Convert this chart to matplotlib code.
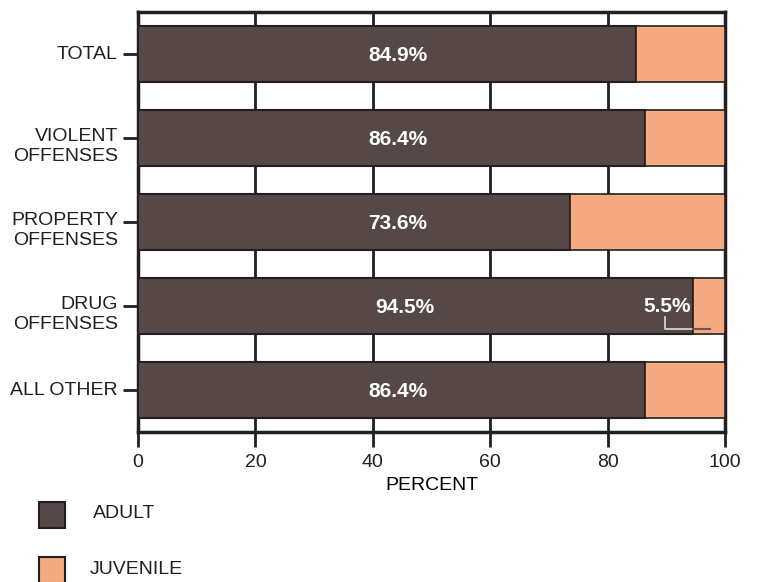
import matplotlib
matplotlib.use("Agg")
import matplotlib.pyplot as plt
from matplotlib.patches import Rectangle

plt.rcParams['font.family'] = ['Liberation Sans', 'DejaVu Sans']

categories = ["TOTAL", "VIOLENT\nOFFENSES", "PROPERTY\nOFFENSES", "DRUG\nOFFENSES", "ALL OTHER"]
adult = [84.9, 86.4, 73.6, 94.5, 86.4]
juvenile = [15.1, 13.6, 26.4, 5.5, 13.6]
adult_labels = ["84.9%", "86.4%", "73.6%", "94.5%", "86.4%"]
drug_juv_label = "5.5%"
xticks = [0, 20, 40, 60, 80, 100]
legend_labels = ["ADULT", "JUVENILE"]

c_adult = "#574848"
c_juv = "#f5a97e"
c_edge = "#231f20"

fig = plt.figure(figsize=(7.57, 5.82), dpi=100)
ax = fig.add_axes([138/757, 1-432/582, 587/757, 420/582])

y = list(range(len(categories)))
ax.barh(y, adult, height=0.67, color=c_adult, edgecolor=c_edge, linewidth=1.5, zorder=3)
ax.barh(y, juvenile, left=adult, height=0.67, color=c_juv, edgecolor=c_edge, linewidth=1.2, zorder=3)

for i, lab in enumerate(adult_labels):
    xpos = 45.5 if i == 3 else 44.3
    ax.text(xpos, i + 0.02, lab, color="white", fontsize=15, fontweight="bold",
            ha="center", va="center", zorder=5)

# 5.5% label with leader line
ax.text(90.1, 3, drug_juv_label, color="white", fontsize=15, fontweight="bold",
        ha="center", va="center", zorder=5)
ax.plot([89.8, 89.8, adult[3]], [3 + 0.13, 3 + 0.27, 3 + 0.27], color="#dddddd", lw=1.2, zorder=6)
ax.plot([adult[3], 97.4], [3 + 0.27, 3 + 0.27], color="#6a5a55", lw=1.5, zorder=6)

ax.set_xlim(0, 100)
ax.set_ylim(4.5, -0.5)
ax.set_xticks(xticks)
ax.set_xticklabels([str(t) for t in xticks], fontsize=14)
ax.set_yticks(y)
ax.set_yticklabels([])
ax.set_xlabel("PERCENT", fontsize=14, labelpad=4)

# category labels drawn manually: multi-line labels have first line at the tick
for i, cat in enumerate(categories):
    dy = -6 if "\n" in cat else -0.5
    ax.annotate(cat, xy=(0, i), xycoords=("axes fraction", "data"),
                xytext=(-14.5, dy), textcoords="offset points",
                ha="right", va="center", fontsize=14, linespacing=1.2,
                color="#231f20", multialignment="right")

ax.grid(axis="x", color="#231f20", linewidth=2, zorder=0)
ax.set_axisbelow(True)
for s in ax.spines.values():
    s.set_color("#231f20")
    s.set_linewidth(2.5)
ax.tick_params(axis="both", colors="#231f20", labelcolor="#231f20", width=2, length=11, pad=3)
ax.tick_params(axis="x", pad=5)

# legend
fig.patches.append(Rectangle((39/757, 1-528/582), 26/757, 26/582, transform=fig.transFigure,
                             facecolor=c_adult, edgecolor=c_edge, linewidth=1.5))
fig.patches.append(Rectangle((39/757, 1-583/582), 26/757, 26/582, transform=fig.transFigure,
                             facecolor=c_juv, edgecolor=c_edge, linewidth=1.5))
fig.text(93/757, 1-513/582, legend_labels[0], fontsize=14, va="center", ha="left", color="#231f20")
fig.text(90/757, 1-569/582, legend_labels[1], fontsize=14, va="center", ha="left", color="#231f20")

fig.savefig("out.png", dpi=100)
